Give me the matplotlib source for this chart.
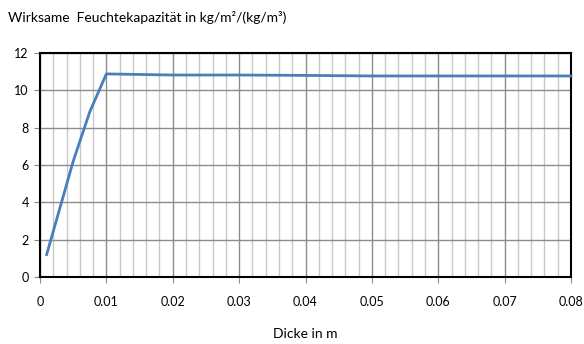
import matplotlib
matplotlib.use("Agg")
import matplotlib.pyplot as plt
import numpy as np

plt.rcParams['font.family'] = ['Lato', 'DejaVu Sans']

x_vals = [0.001, 0.005, 0.0075, 0.01, 0.02, 0.03, 0.04, 0.05, 0.06, 0.07, 0.08]
y_vals = [1.2, 6.2, 8.85, 10.88, 10.82, 10.82, 10.8, 10.77, 10.77, 10.77, 10.77]
x_ticks = [0, 0.01, 0.02, 0.03, 0.04, 0.05, 0.06, 0.07, 0.08]
x_tick_labels = ['0', '0.01', '0.02', '0.03', '0.04', '0.05', '0.06', '0.07', '0.08']
y_ticks = [0, 2, 4, 6, 8, 10, 12]

W, H = 584, 344
fig = plt.figure(figsize=(W/100, H/100), dpi=100)
L, R, T, B = 40, 571, 53, 277
ax = fig.add_axes([L/W, 1-B/H, (R-L)/W, (B-T)/H])

ax.set_xlim(0, 0.08)
ax.set_ylim(0, 12)
ax.set_xticks(x_ticks)
ax.set_xticklabels(x_tick_labels)
ax.set_yticks(y_ticks)
ax.set_xticks(np.arange(0, 0.0801, 0.002), minor=True)

ax.grid(True, which='minor', axis='x', color='#c8c8c8', lw=1.0)
ax.grid(True, which='major', axis='x', color='#8c8c8c', lw=1.0)
ax.grid(True, which='major', axis='y', color='#8c8c8c', lw=1.0)
ax.set_axisbelow(True)

ax.plot(x_vals, y_vals, color='#4a7ebb', lw=2.0, solid_joinstyle='round', clip_on=False, zorder=5)

for s in ax.spines.values():
    s.set_color('black')
    s.set_linewidth(1.5)

ax.tick_params(axis='both', which='major', direction='out', length=4, width=0.8,
               color='#8c8c8c', labelsize=9, colors='black')
ax.tick_params(axis='x', which='minor', length=0)
ax.tick_params(axis='x', pad=10)
ax.tick_params(axis='y', pad=4)

fig.text(8/W, 1-18/H, 'Wirksame  Feuchtekapazität in kg/m²/(kg/m³)', fontsize=10,
         ha='left', va='center')
fig.text(305/W, 1-334/H, 'Dicke in m', fontsize=10, ha='center', va='center')

fig.savefig('out.png', dpi=100)
